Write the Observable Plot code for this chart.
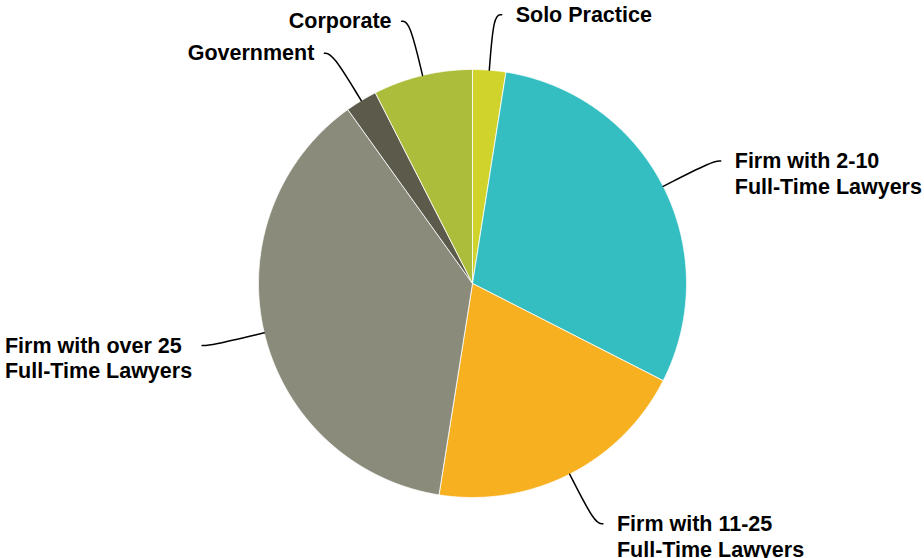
<!DOCTYPE html>
<html><head><meta charset="utf-8">
<script src="https://cdn.jsdelivr.net/npm/d3@7"></script>
<script src="https://cdn.jsdelivr.net/npm/@observablehq/plot@0.6"></script>
<style>html,body{margin:0;padding:0;background:#fff;}</style>
</head><body><div id="chart"></div>
<script>
// ---- data ----
const categories = [
  "Solo Practice",
  "Firm with 2-10\nFull-Time Lawyers",
  "Firm with 11-25\nFull-Time Lawyers",
  "Firm with over 25\nFull-Time Lawyers",
  "Government",
  "Corporate"
];
const shares = [2.5, 30.0, 20.0, 37.6, 2.4, 7.5];
const colors = ["#cfd32b", "#35bec1", "#f7b01f", "#8a8b7a", "#5c5b4b", "#abbd3a"];

// ---- layout ----
const W = 924, H = 558, CX = 472, CY = 283, R = 214;
const ELBOW = 1.26, EXT = 8 / R, FONT = "bold 21.5px 'Liberation Sans', Arial, sans-serif";

const arcs = d3.pie().sort(null).value(d => d.value)(
  categories.map((name, i) => ({name, value: shares[i]}))
);

// slice outlines (center + arc sampled between pie angles)
const slicePts = [];
arcs.forEach(p => {
  const name = p.data.name;
  const n = Math.max(2, Math.ceil((p.endAngle - p.startAngle) / (Math.PI / 720)));
  slicePts.push({name, x: 0, y: 0});
  for (let j = 0; j <= n; j++) {
    const a = p.startAngle + (p.endAngle - p.startAngle) * j / n;
    slicePts.push({name, x: Math.sin(a), y: Math.cos(a)});
  }
  slicePts.push({name, x: 0, y: 0});
});

// text measurement for left-side label blocks
const ctx = document.createElement("canvas").getContext("2d");
ctx.font = FONT;
const blockWidth = t => d3.max(t.split("\n"), l => ctx.measureText(l).width);

const leaderPts = [], labels = [];
arcs.forEach(p => {
  const name = p.data.name;
  const a = (p.startAngle + p.endAngle) / 2, s = Math.sin(a), c = Math.cos(a);
  const side = s >= 0 ? 1 : -1;
  const ex = ELBOW * s, ey = ELBOW * c, endx = ex + side * EXT;
  leaderPts.push({name, x: s, y: c}, {name, x: ex, y: ey}, {name, x: endx, y: ey});
  const tx = side > 0 ? endx + 14 / R : endx - (10 + blockWidth(name)) / R;
  labels.push({name, tx, y: ey});
});

const chart = Plot.plot({
  width: W, height: H, margin: 0,
  x: {domain: [-CX / R, (W - CX) / R], axis: null},
  y: {domain: [-(H - CY) / R, CY / R], axis: null},
  color: {domain: categories, range: colors},
  style: {background: "white", fontFamily: "'Liberation Sans', Arial, sans-serif"},
  marks: [
    Plot.line(slicePts, {x: "x", y: "y", z: "name", fill: "name", stroke: "white", strokeWidth: 0.8, strokeLinejoin: "round"}),
    Plot.line(leaderPts, {x: "x", y: "y", z: "name", curve: "basis", stroke: "black", strokeWidth: 1.5}),
    Plot.text(labels, {x: "tx", y: "y", text: "name", textAnchor: "start", lineAnchor: "top", dy: -11,
      fontSize: 21.5, fontWeight: "bold", fill: "black", lineHeight: 1.19})
  ]
});
document.getElementById("chart").append(chart);
</script>
</body></html>
